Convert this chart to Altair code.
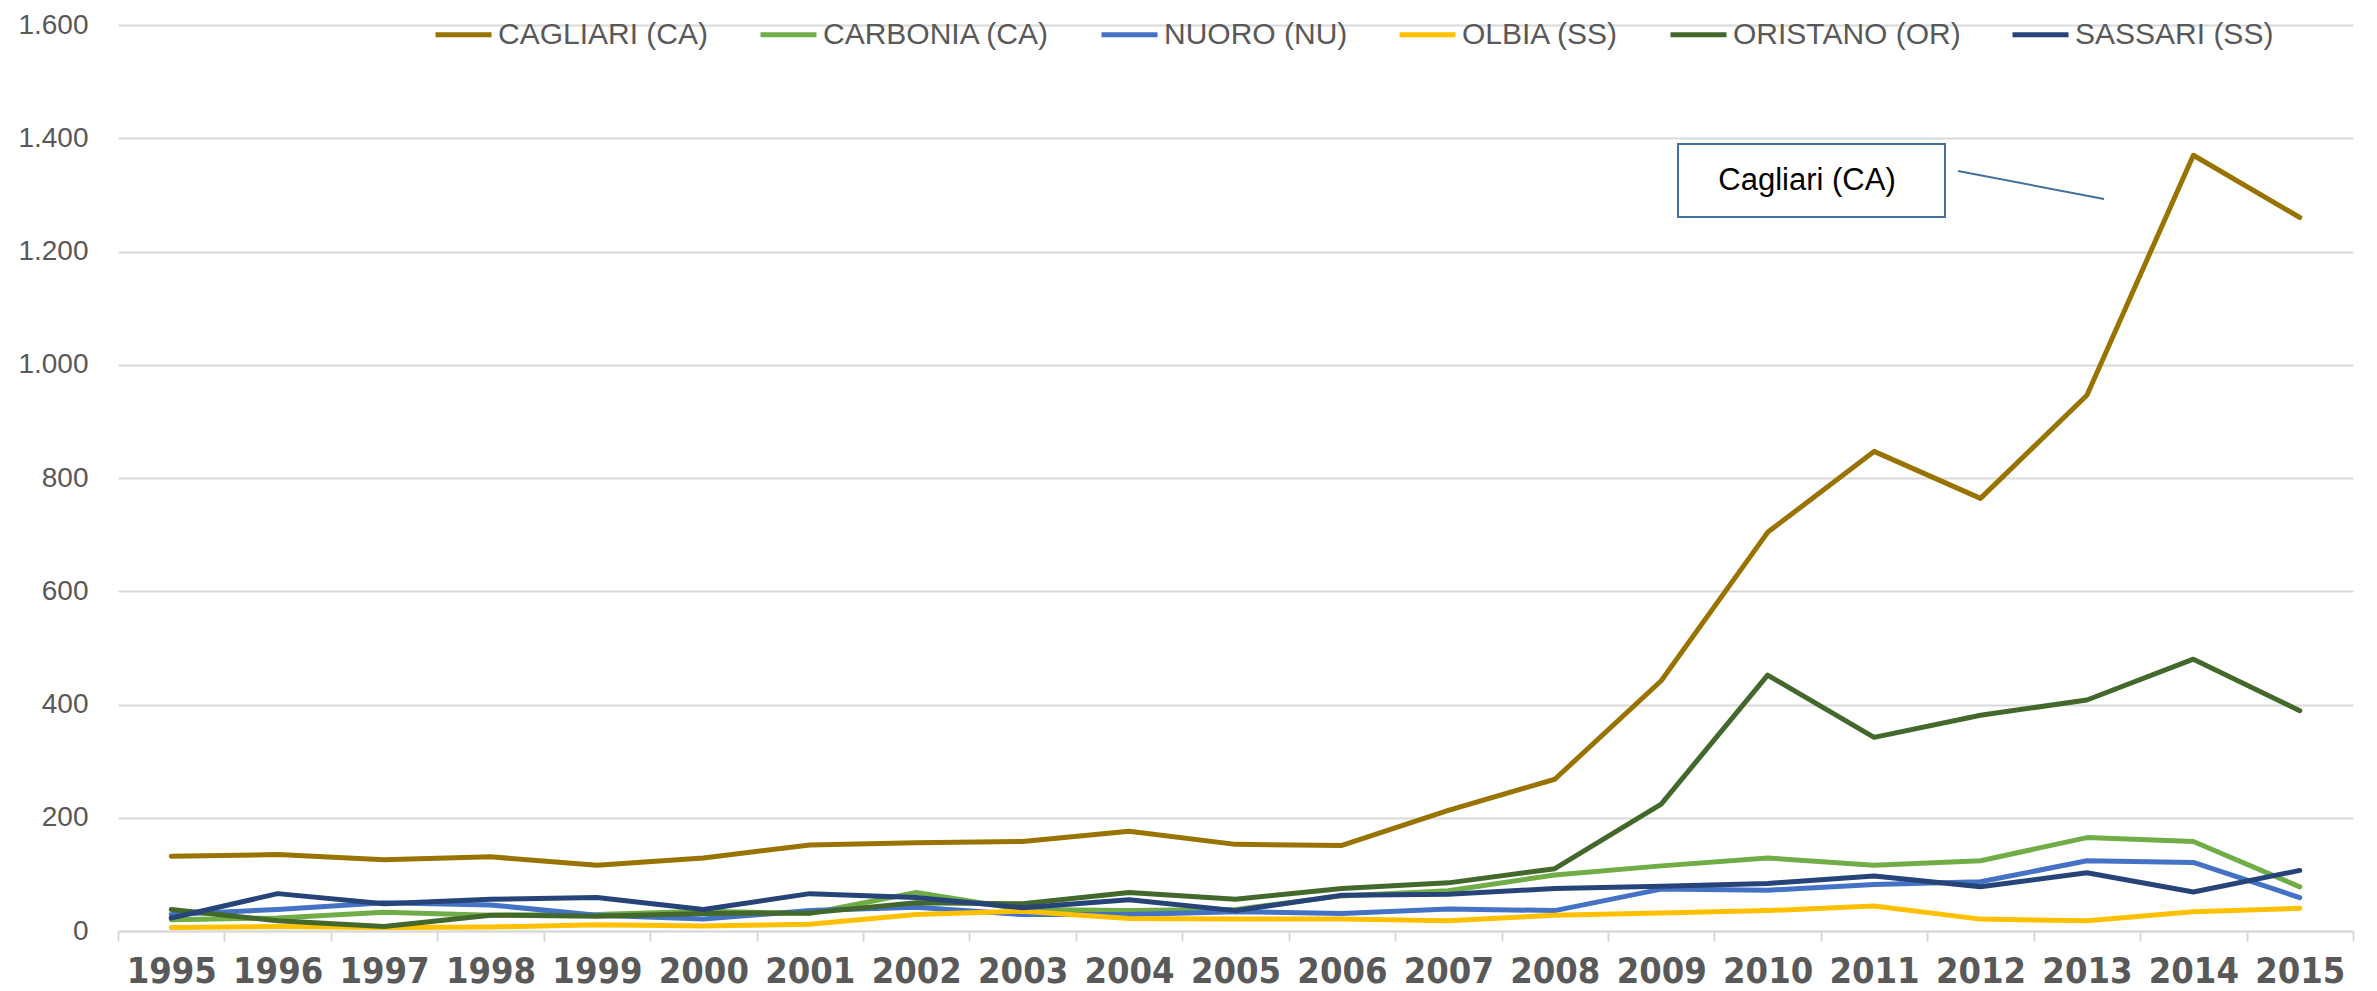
import altair as alt
import pandas as pd

years = [str(y) for y in range(1995, 2016)]

cagliari = [132, 135, 126, 131, 116, 129, 152, 156, 158, 176, 153, 151, 213, 268, 442, 704, 847, 764, 946, 1370, 1260]
carbonia = [20, 23, 33, 28, 29, 35, 31, 68, 38, 36, 38, 62, 71, 99, 115, 129, 116, 124, 165, 158, 78]
nuoro = [29, 38, 50, 46, 28, 21, 36, 42, 29, 29, 34, 31, 39, 36, 74, 72, 82, 87, 124, 121, 59]
olbia = [6, 8, 6, 7, 11, 9, 12, 29, 35, 22, 21, 21, 18, 28, 32, 36, 44, 21, 18, 34, 40]
oristano = [38, 18, 8, 28, 26, 31, 32, 50, 48, 68, 56, 75, 85, 110, 224, 452, 342, 381, 408, 480, 389]
sassari = [23, 66, 48, 56, 59, 38, 66, 59, 41, 55, 36, 63, 65, 75, 79, 84, 97, 78, 103, 69, 107]

series_names = ["CAGLIARI (CA)", "CARBONIA (CA)", "NUORO (NU)", "OLBIA (SS)", "ORISTANO (OR)", "SASSARI (SS)"]
series_values = [cagliari, carbonia, nuoro, olbia, oristano, sassari]
series_colors = ["#997300", "#70AD47", "#4472C4", "#FFC000", "#43682B", "#264478"]

y_ticks = [0, 200, 400, 600, 800, 1000, 1200, 1400, 1600]
annotation_text = "Cagliari (CA)"

rows = []
for name, vals in zip(series_names, series_values):
    for yr, v in zip(years, vals):
        rows.append({"year": yr, "value": v, "series": name})
df = pd.DataFrame(rows)

FONT = "Liberation Sans, Arial, sans-serif"
XFONT = "DejaVu Sans Condensed, DejaVu Sans, sans-serif"
W, H = 2235, 906

lines = alt.Chart(df).mark_line(strokeWidth=5, strokeCap="round", strokeJoin="round").encode(
    x=alt.X("year:N", sort=years,
            scale=alt.Scale(paddingInner=0, paddingOuter=0),
            axis=alt.Axis(title=None, labelAngle=0, labelFont=XFONT, labelFontSize=36,
                          labelFontWeight="bold", labelColor="#595959", labelPadding=13,
                          tickBand="extent", tickColor="#D9D9D9", tickWidth=2, tickSize=10,
                          domainColor="#D9D9D9", domainWidth=2, grid=False)),
    y=alt.Y("value:Q", scale=alt.Scale(domain=[0, 1600], nice=False),
            axis=alt.Axis(title=None, values=y_ticks, labelFont=FONT, labelFontSize=28,
                          labelColor="#595959", labelPadding=30, domain=False, ticks=False,
                          gridColor="#D9D9D9", gridWidth=2,
                          labelExpr="replace(format(datum.value, ','), ',', '.')")),
    color=alt.Color("series:N", sort=series_names,
                    scale=alt.Scale(domain=series_names, range=series_colors),
                    legend=alt.Legend(title=None, orient="none", direction="horizontal",
                                      legendX=315, legendY=-21, symbolType="stroke",
                                      symbolStrokeWidth=5, symbolSize=3136, labelFont=FONT,
                                      labelFontSize=30, labelColor="#595959", columnPadding=41,
                                      labelOffset=4, labelLimit=0, symbolOffset=0)),
)

ann = pd.DataFrame({"t": [annotation_text]})
box = alt.Chart(ann).mark_rect(fill="white", stroke="#41719C", strokeWidth=2).encode(
    x=alt.value(1560), x2=alt.value(1827), y=alt.value(119), y2=alt.value(192))
txt = alt.Chart(ann).mark_text(font=FONT, fontSize=31, color="black", align="center",
                               baseline="middle").encode(
    x=alt.value(1689), y=alt.value(156), text="t:N")
leader = alt.Chart(ann).mark_rule(color="#41719C", strokeWidth=2).encode(
    x=alt.value(1840), x2=alt.value(1986), y=alt.value(146), y2=alt.value(174))

chart = alt.layer(lines, leader, box, txt).properties(
    width=W, height=H, autosize=alt.AutoSizeParams(type="none"),
    padding={"left": 110, "top": 17, "right": 10, "bottom": 60},
    background="white",
).configure_view(stroke=None)

chart.save("out.html", embed_options={"renderer": "svg", "actions": False})
